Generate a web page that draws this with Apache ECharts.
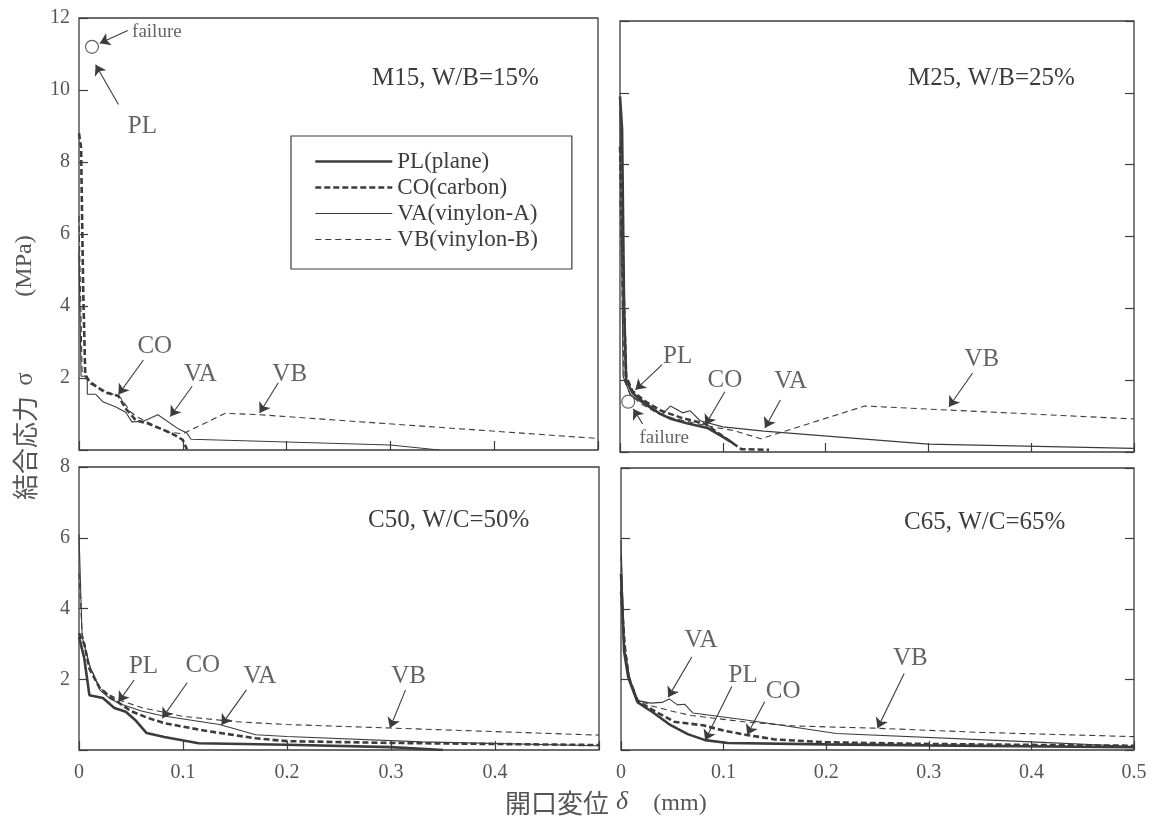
<!DOCTYPE html>
<html>
<head>
<meta charset="utf-8">
<title>結合応力 - 開口変位</title>
<script src="https://cdn.jsdelivr.net/npm/echarts@6/dist/echarts.min.js"></script>
<style>
  html, body { margin: 0; padding: 0; background: #fff; }
  #chart { width: 1154px; height: 825px; }
</style>
</head>
<body>
<div id="chart"></div>
<script>
const ink = '#3c3c3c';
const serif = '"Liberation Serif", "Times New Roman", serif';
const cjk = '"Noto Sans CJK JP", sans-serif';

const seriesNames = ['PL(plane)', 'CO(carbon)', 'VA(vinylon-A)', 'VB(vinylon-B)'];
const panelTitles = ['M15, W/B=15%', 'M25, W/B=25%', 'C50, W/C=50%', 'C65, W/C=65%'];
const yMax = [12, 12, 8, 8];

// [δ (mm), σ (MPa)]
// M15
const m15_CO = [[0, 8.8], [0.002, 8.4], [0.004, 4.5], [0.006, 2.1], [0.01, 1.9], [0.025, 1.6], [0.038, 1.5], [0.045, 1.15], [0.055, 0.82], [0.065, 0.75], [0.078, 0.6], [0.09, 0.45], [0.1, 0.28], [0.104, 0.02]];
const m15_VA = [[0, 5.5], [0.002, 2.05], [0.008, 2.05], [0.008, 1.55], [0.016, 1.55], [0.023, 1.34], [0.035, 1.2], [0.045, 1.05], [0.051, 0.78], [0.062, 0.8], [0.076, 0.98], [0.095, 0.6], [0.104, 0.47], [0.108, 0.3], [0.3, 0.14], [0.347, 0]];
const m15_VB = [[0, 6.5], [0.003, 2.2], [0.01, 1.85], [0.025, 1.65], [0.04, 1.45], [0.05, 1.05], [0.056, 0.92], [0.07, 0.72], [0.085, 0.5], [0.1, 0.45], [0.141, 1.02], [0.174, 0.98], [0.5, 0.32]];
// M25
const m25_PL = [[0, 9.9], [0.002, 9.0], [0.004, 4.0], [0.006, 2.0], [0.012, 1.65], [0.02, 1.45], [0.03, 1.25], [0.039, 1.06], [0.05, 0.92], [0.065, 0.8], [0.085, 0.67], [0.1, 0.42], [0.11, 0.25]];
const m25_CO = [[0, 8.5], [0.003, 5.0], [0.006, 2.1], [0.012, 1.7], [0.025, 1.4], [0.04, 1.15], [0.06, 0.95], [0.083, 0.78], [0.118, 0.08], [0.145, 0.06]];
const m25_VA = [[0, 9.5], [0.003, 2.1], [0.01, 1.6], [0.02, 1.4], [0.03, 1.2], [0.041, 1.05], [0.049, 1.28], [0.061, 1.09], [0.068, 1.15], [0.078, 0.87], [0.1, 0.7], [0.14, 0.58], [0.3, 0.22], [0.5, 0.1]];
const m25_VB = [[0, 7.0], [0.004, 2.0], [0.01, 1.6], [0.02, 1.35], [0.035, 1.1], [0.05, 0.95], [0.07, 0.82], [0.09, 0.7], [0.11, 0.6], [0.137, 0.37], [0.238, 1.28], [0.5, 0.92]];
// C50
const c50_PL = [[0, 3.2], [0.005, 2.6], [0.01, 1.55], [0.023, 1.47], [0.034, 1.19], [0.045, 1.08], [0.054, 0.85], [0.065, 0.48], [0.082, 0.37], [0.115, 0.19], [0.2, 0.15], [0.3, 0.08], [0.35, 0]];
const c50_CO = [[0, 3.3], [0.005, 3.0], [0.01, 2.3], [0.02, 1.75], [0.03, 1.5], [0.04, 1.3], [0.05, 1.1], [0.065, 0.92], [0.082, 0.76], [0.12, 0.55], [0.17, 0.33], [0.2, 0.25], [0.3, 0.2], [0.5, 0.14]];
const c50_VA = [[0, 6.1], [0.003, 3.2], [0.01, 2.4], [0.02, 1.7], [0.03, 1.45], [0.04, 1.3], [0.06, 1.1], [0.08, 0.97], [0.135, 0.72], [0.17, 0.43], [0.2, 0.38], [0.33, 0.23], [0.5, 0.12]];
const c50_VB = [[0, 5.0], [0.003, 3.3], [0.01, 2.4], [0.02, 1.75], [0.03, 1.55], [0.04, 1.4], [0.06, 1.2], [0.1, 0.95], [0.15, 0.8], [0.2, 0.72], [0.3, 0.62], [0.4, 0.52], [0.5, 0.42]];
// C65
const c65_PL = [[0, 5.0], [0.003, 2.8], [0.007, 2.07], [0.016, 1.36], [0.032, 1.05], [0.048, 0.71], [0.065, 0.45], [0.082, 0.28], [0.104, 0.2], [0.2, 0.16], [0.3, 0.13], [0.5, 0.08]];
const c65_CO = [[0, 4.5], [0.004, 2.8], [0.008, 2.0], [0.016, 1.4], [0.03, 1.15], [0.052, 0.8], [0.08, 0.7], [0.1, 0.55], [0.122, 0.43], [0.15, 0.3], [0.2, 0.22], [0.3, 0.17], [0.5, 0.12]];
const c65_VA = [[0, 5.95], [0.003, 3.0], [0.008, 2.0], [0.016, 1.4], [0.029, 1.33], [0.04, 1.35], [0.047, 1.45], [0.055, 1.28], [0.062, 1.3], [0.07, 1.05], [0.122, 0.85], [0.21, 0.47], [0.4, 0.23], [0.5, 0.1]];
const c65_VB = [[0, 5.5], [0.003, 3.2], [0.008, 2.1], [0.016, 1.45], [0.03, 1.25], [0.05, 1.1], [0.068, 0.98], [0.12, 0.8], [0.17, 0.68], [0.247, 0.62], [0.35, 0.5], [0.5, 0.38]];

// panel -> [PL, CO, VA, VB]
const curveData = [
  [null, m15_CO, m15_VA, m15_VB],
  [m25_PL, m25_CO, m25_VA, m25_VB],
  [c50_PL, c50_CO, c50_VA, c50_VB],
  [c65_PL, c65_CO, c65_VA, c65_VB]
];

// failure points (open circles)
const failurePoints = [[[0.0125, 11.2]], [[0.008, 1.4]], [], []];

// annotation text [δ, σ, text]
const labelsM15 = [[0.061, 9.0, 'PL'], [0.073, 2.88, 'CO'], [0.117, 2.1, 'VA'], [0.203, 2.1, 'VB']];
const labelsM25 = [[0.056, 2.65, 'PL'], [0.102, 2.0, 'CO'], [0.166, 1.96, 'VA'], [0.352, 2.57, 'VB']];
const labelsC50 = [[0.062, 2.35, 'PL'], [0.119, 2.4, 'CO'], [0.174, 2.07, 'VA'], [0.317, 2.07, 'VB']];
const labelsC65 = [[0.078, 3.12, 'VA'], [0.119, 2.12, 'PL'], [0.158, 1.65, 'CO'], [0.282, 2.6, 'VB']];
const failureText = [[[0.075, 11.6, 'failure']], [[0.043, 0.39, 'failure']], [], []];

// arrows [δ1, σ1, δ2 (tip), σ2 (tip)]
const arrowsM15 = [[0.047, 11.65, 0.02, 11.3], [0.038, 9.6, 0.016, 10.7], [0.062, 2.5, 0.038, 1.54], [0.109, 1.77, 0.088, 0.93], [0.192, 1.87, 0.174, 1.03]];
const arrowsM25 = [[0.041, 2.43, 0.015, 1.73], [0.102, 1.68, 0.083, 0.75], [0.156, 1.45, 0.141, 0.67], [0.343, 2.2, 0.32, 1.26], [0.022, 0.78, 0.013, 1.2]];
const arrowsC50 = [[0.053, 1.98, 0.038, 1.36], [0.104, 1.9, 0.08, 0.9], [0.161, 1.7, 0.137, 0.71], [0.314, 1.7, 0.299, 0.62]];
const arrowsC65 = [[0.069, 2.64, 0.046, 1.5], [0.108, 1.8, 0.082, 0.28], [0.14, 1.37, 0.123, 0.43], [0.276, 2.17, 0.25, 0.62]];

const panelLabels = [labelsM15, labelsM25, labelsC50, labelsC65];
const panelArrows = [arrowsM15, arrowsM25, arrowsC50, arrowsC65];

const grids = [
  { left: 79, top: 18, width: 519, height: 432 },
  { left: 620, top: 21, width: 514, height: 431 },
  { left: 79, top: 467, width: 520, height: 283 },
  { left: 621, top: 468, width: 513, height: 282 }
];
const titlePos = [[372, 66], [908, 66], [368, 508], [904, 510]];

const lineStyles = [
  { width: 2.6, type: 'solid' },
  { width: 2.6, type: [6, 3] },
  { width: 1.1, type: 'solid' },
  { width: 1.1, type: [6, 4] }
];

const tickStyle = { show: true, inside: true, length: 9, lineStyle: { color: ink, width: 1.2 } };

const chart = echarts.init(document.getElementById('chart'));

const xAxes = grids.map((g, i) => ({
  type: 'value', gridIndex: i, min: 0, max: 0.5, interval: 0.1,
  axisLine: { show: false }, splitLine: { show: false },
  axisTick: tickStyle,
  axisLabel: {
    show: i >= 2, margin: 13, fontFamily: serif, fontSize: 20, color: '#555',
    formatter: function (v) { return (i === 2 && v >= 0.5) ? '' : String(+v.toFixed(1)); }
  }
}));

const yAxes = grids.map((g, i) => ({
  type: 'value', gridIndex: i, min: 0, max: yMax[i], interval: 2,
  axisLine: { show: false }, splitLine: { show: false },
  axisTick: tickStyle,
  axisLabel: {
    show: i === 0 || i === 2, margin: 9, fontFamily: serif, fontSize: 20, color: '#555',
    formatter: function (v) { return v === 0 ? '' : String(v); }
  }
}));
// ticks on the right edge of the right-hand panels
[1, 3].forEach(function (i) {
  yAxes.push({
    type: 'value', gridIndex: i, position: 'right', min: 0, max: yMax[i], interval: 2,
    axisLine: { show: false }, splitLine: { show: false },
    axisTick: tickStyle, axisLabel: { show: false }
  });
});

const series = [];
curveData.forEach(function (panel, gi) {
  panel.forEach(function (data, si) {
    if (!data) return;
    series.push({
      name: seriesNames[si], type: 'line', xAxisIndex: gi, yAxisIndex: gi,
      data: data, symbol: 'none', silent: true, z: 3,
      lineStyle: Object.assign({ color: ink }, lineStyles[si]),
      itemStyle: { color: ink }
    });
  });
});

grids.forEach(function (g, gi) {
  series.push({
    name: 'failure', type: 'scatter', xAxisIndex: gi, yAxisIndex: gi,
    data: failurePoints[gi], symbol: 'circle', symbolSize: 13, silent: true, z: 4,
    itemStyle: { color: 'rgba(0,0,0,0)', borderColor: ink, borderWidth: 1.2 }
  });
  series.push({
    name: 'notes', type: 'scatter', xAxisIndex: gi, yAxisIndex: gi, symbolSize: 1, silent: true, z: 6,
    itemStyle: { color: 'rgba(0,0,0,0)' },
    data: panelLabels[gi].map(function (l) { return { value: [l[0], l[1]], name: l[2] }; })
      .concat(failureText[gi].map(function (l) {
        return { value: [l[0], l[1]], name: l[2], label: { fontSize: 19 } };
      })),
    label: { show: true, position: 'inside', formatter: '{b}', fontFamily: serif, fontSize: 25, color: ink }
  });
  series.push({
    name: 'arrows', type: 'lines', coordinateSystem: 'cartesian2d', xAxisIndex: gi, yAxisIndex: gi,
    symbol: ['none', 'arrow'], symbolSize: 10, silent: true, z: 5,
    lineStyle: { color: ink, width: 1.1, opacity: 1 },
    data: panelArrows[gi].map(function (a) { return { coords: [[a[0], a[1]], [a[2], a[3]]] }; })
  });
});

const option = {
  animation: false,
  backgroundColor: '#fff',
  grid: grids.map(function (g) {
    return Object.assign({ show: true, borderColor: ink, borderWidth: 1.3, backgroundColor: 'transparent' }, g);
  }),
  title: panelTitles.map(function (t, i) {
    return {
      text: t, left: titlePos[i][0], top: titlePos[i][1], padding: 0,
      textStyle: { fontFamily: serif, fontSize: 25, fontWeight: 'normal', color: ink }
    };
  }),
  legend: {
    data: seriesNames.map(function (n, i) {
      return {
        name: n,
        itemStyle: { opacity: 0 },
        lineStyle: { color: ink, width: lineStyles[i].width, type: lineStyles[i].type }
      };
    }),
    orient: 'vertical', left: 291, top: 136,
    itemWidth: 77, itemHeight: 14, itemGap: 3, itemTextGap: 24,
    padding: [14, 34, 18, 23], borderColor: ink, borderWidth: 1.2,
    selectedMode: false,
    textStyle: { fontFamily: serif, fontSize: 23, color: ink }
  },
  xAxis: xAxes,
  yAxis: yAxes,
  series: series,
  graphic: [
    // y axis title, read bottom to top
    {
      type: 'text', x: 25, y: 448, rotation: Math.PI / 2, silent: true,
      style: { text: '結合応力', font: '26px ' + cjk, fill: '#555', textAlign: 'center', textVerticalAlign: 'middle' }
    },
    {
      type: 'text', x: 25, y: 379, rotation: Math.PI / 2, silent: true,
      style: { text: 'σ', font: '25px ' + serif, fill: '#555', textAlign: 'center', textVerticalAlign: 'middle' }
    },
    {
      type: 'text', x: 25, y: 266, rotation: Math.PI / 2, silent: true,
      style: { text: '(MPa)', font: '24px ' + serif, fill: '#555', textAlign: 'center', textVerticalAlign: 'middle' }
    },
    // x axis title
    {
      type: 'text', x: 557, y: 803, silent: true,
      style: { text: '開口変位', font: '26px ' + cjk, fill: '#555', textAlign: 'center', textVerticalAlign: 'middle' }
    },
    {
      type: 'text', x: 622, y: 802, silent: true,
      style: { text: 'δ', font: 'italic 26px ' + serif, fill: '#555', textAlign: 'center', textVerticalAlign: 'middle' }
    },
    {
      type: 'text', x: 680, y: 804, silent: true,
      style: { text: '(mm)', font: '24px ' + serif, fill: '#555', textAlign: 'center', textVerticalAlign: 'middle' }
    }
  ]
};

chart.setOption(option);
</script>
</body>
</html>
